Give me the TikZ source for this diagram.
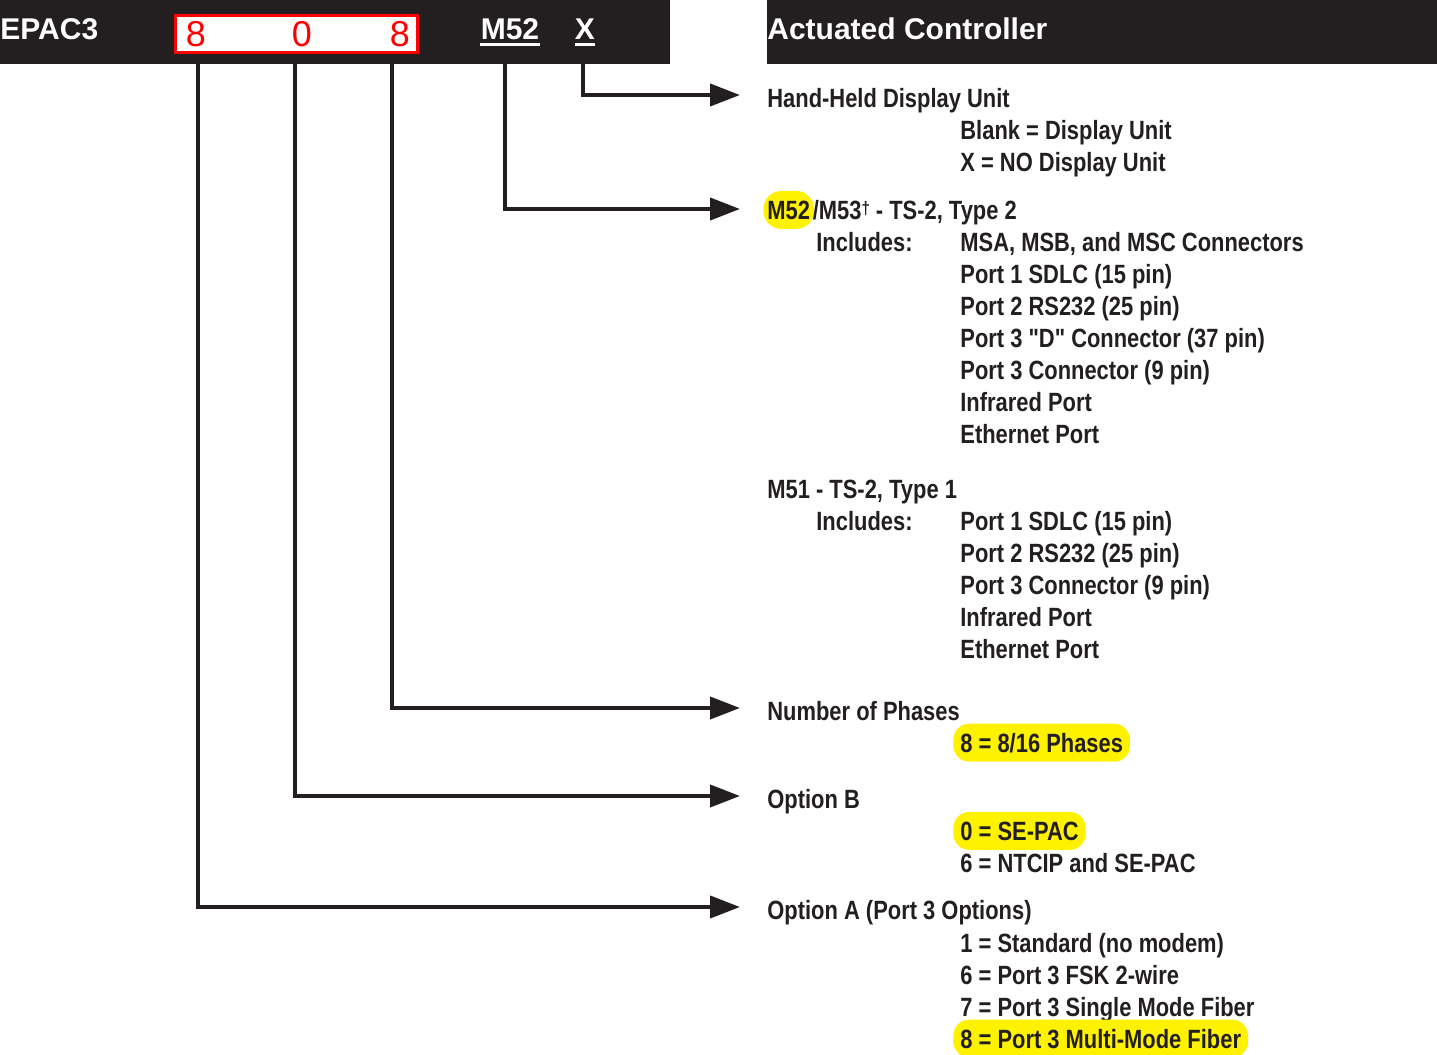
\documentclass[tikz,border=0pt]{standalone}
\usepackage{fontspec}
\setmainfont{Liberation Sans}
\newfontfamily\condfont{Liberation Sans}[FakeStretch=0.83]
\usepackage{tikz}
\usetikzlibrary{positioning,arrows.meta}
\definecolor{ink}{HTML}{231F20}
\newcommand{\updag}{\raisebox{2.5pt}{\fontsize{9}{9}\selectfont †}}
\tikzset{
  head/.style={text=white,font=\fontsize{15}{18}\selectfont\bfseries,inner sep=0pt},
  digit/.style={text=red,font=\fontsize{18}{20}\selectfont,inner sep=0pt},
  txt/.style={anchor=base west,inner sep=0pt,text=ink,font=\condfont\bfseries\fontsize{13.2}{15}\selectfont},
  hl/.style={txt,fill=yellow,rounded corners=8pt,inner xsep=3.5pt,minimum height=19pt},
  feed/.style={ink,line width=2pt,-{Triangle[length=15pt,width=11pt]}}
}
\begin{document}
\begin{tikzpicture}[x=0.5pt,y=-0.5pt]
\useasboundingbox (0,0) rectangle (1437,1055);

\fill[ink] (0,0) rectangle (670,64);
\fill[ink] (767,0) rectangle (1437,64);
\node[head,anchor=base west] (epac) at (0,39) {EPAC3};
\node[head,anchor=base west] (title) at (767,39) {Actuated Controller};

\node[draw=red,line width=1.5pt,fill=white,minimum width=121pt,minimum height=18.5pt,inner sep=0pt] (code) at (296,33.5) {};
\node[digit,anchor=base] (dA) at (196,46) {8};
\node[digit,anchor=base] (dB) at (302,46) {0};
\node[digit,anchor=base] (dP) at (400,46) {8};
\node[head,anchor=base] (hm52) at (510,39) {M52};
\node[head,anchor=base] (hx) at (585,39) {X};
\draw[white,line width=1.5pt] ([yshift=-2.5pt]hm52.base west) -- ([yshift=-2.5pt]hm52.base east);
\draw[white,line width=1.5pt] ([yshift=-2.5pt]hx.base west) -- ([yshift=-2.5pt]hx.base east);

\coordinate (lnA) at (198,64);
\coordinate (lnB) at (295,64);
\coordinate (lnP) at (392,64);
\coordinate (lnM) at (505,64);
\coordinate (lnX) at (583,64);

\node[txt] (hhdu) at (767,107) {Hand-Held Display Unit};
\node[txt] (blank) at (960,139) {Blank = Display Unit};
\node[txt] (nodisp) at (960,171) {X = NO Display Unit};

\node[hl,inner xsep=2pt,minimum height=19pt,rounded corners=9pt] (m52) at (763,219) {M52};
\node[txt,inner xsep=0pt] (ts2) at ([xshift=-1pt]m52.base east) {/M53\updag{} - TS-2, Type 2};
\node[txt] (inclA) at (816,251) {Includes:};
\node[txt] (msa) at (960,251) {MSA, MSB, and MSC Connectors};
\node[txt] (sdlcA) at (960,283) {Port 1 SDLC (15 pin)};
\node[txt] (rsA) at (960,315) {Port 2 RS232 (25 pin)};
\node[txt] (dcon) at (960,347) {Port 3 "D" Connector (37 pin)};
\node[txt] (conA) at (960,379) {Port 3 Connector (9 pin)};
\node[txt] (irA) at (960,411) {Infrared Port};
\node[txt] (ethA) at (960,443) {Ethernet Port};

\node[txt] (m51) at (767,498) {M51 - TS-2, Type 1};
\node[txt] (inclB) at (816,530) {Includes:};
\node[txt] (sdlcB) at (960,530) {Port 1 SDLC (15 pin)};
\node[txt] (rsB) at (960,562) {Port 2 RS232 (25 pin)};
\node[txt] (conB) at (960,594) {Port 3 Connector (9 pin)};
\node[txt] (irB) at (960,626) {Infrared Port};
\node[txt] (ethB) at (960,658) {Ethernet Port};

\node[txt] (phases) at (767,720) {Number of Phases};
\node[hl] (ph8) at (953,752) {8 = 8/16 Phases};

\node[txt] (optB) at (767,808) {Option B};
\node[hl] (sepac) at (953,840) {0 = SE-PAC};
\node[txt] (ntcip) at (960,872) {6 = NTCIP and SE-PAC};

\node[txt] (optA) at (767,919) {Option A (Port 3 Options)};
\node[txt] (std) at (960,952) {1 = Standard (no modem)};
\node[txt] (fsk) at (960,984) {6 = Port 3 FSK 2-wire};
\node[txt] (smf) at (960,1016) {7 = Port 3 Single Mode Fiber};
\node[hl] (mmf) at (953,1048) {8 = Port 3 Multi-Mode Fiber};

\draw[feed] (lnX) |- ([xshift=-13.5pt,yshift=6pt]hhdu.base west);
\draw[feed] (lnM) |- ([xshift=-11.5pt,yshift=5pt]m52.base west);
\draw[feed] (lnP) |- ([xshift=-13.5pt,yshift=6pt]phases.base west);
\draw[feed] (lnB) |- ([xshift=-13.5pt,yshift=6pt]optB.base west);
\draw[feed] (lnA) |- ([xshift=-13.5pt,yshift=6pt]optA.base west);
\end{tikzpicture}
\end{document}
